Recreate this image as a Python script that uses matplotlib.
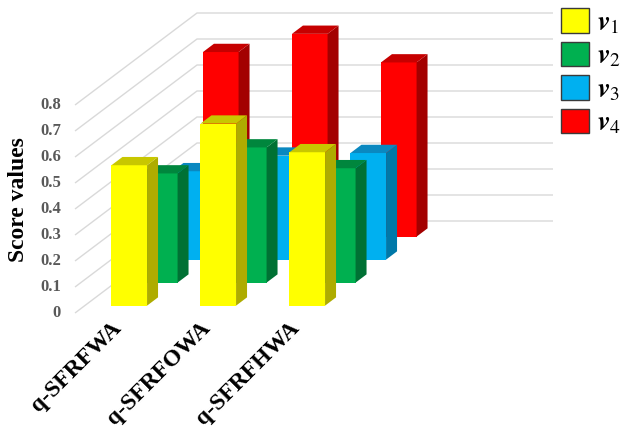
import matplotlib
matplotlib.use("Agg")
import matplotlib.pyplot as plt
from matplotlib.patches import Polygon, Patch

# ---- data -------------------------------------------------------------
categories = ["q-SFRFWA", "q-SFRFOWA", "q-SFRFHWA"]
series_names = [r"$\boldsymbol{v}_{1}$", r"$\boldsymbol{v}_{2}$",
                r"$\boldsymbol{v}_{3}$", r"$\boldsymbol{v}_{4}$"]
v1 = [0.54, 0.70, 0.59]
v2 = [0.42, 0.52, 0.44]
v3 = [0.34, 0.40, 0.41]
v4 = [0.71, 0.78, 0.67]
series_values = [v1, v2, v3, v4]
y_ticks = [0, 0.1, 0.2, 0.3, 0.4, 0.5, 0.6, 0.7, 0.8]
y_tick_labels = ["0", "0.1", "0.2", "0.3", "0.4", "0.5", "0.6", "0.7", "0.8"]

# face colours: front, top, side
palette = [
    ("#FFFF00", "#C8C700", "#AEAC00"),
    ("#00B050", "#00863D", "#007134"),
    ("#00B0F0", "#0A88C0", "#0078A8"),
    ("#FF0000", "#C60000", "#A30000"),
]

plt.rcParams["font.family"] = ["Liberation Serif", "DejaVu Serif"]
plt.rcParams["mathtext.fontset"] = "stix"

# ---- layout (pixels) ---------------------------------------------------
W, H, DPI = 625, 430, 100
CAT_PX = 89.0          # width of one category slot
FLOOR_LEFT_PX = 75.0   # left edge of front floor
ZERO_PX = 313.0        # y pixel (from top) of value 0 on front plane
VAL_PX = 260.0         # pixels per unit value
N_SLOTS = 4            # category slots on the floor (last one empty)

def xd(px):
    return (px - FLOOR_LEFT_PX) / CAT_PX - 0.5

def yd(py):
    return (ZERO_PX - py) / VAL_PX

DX = 122.0 / CAT_PX    # oblique depth vector (full depth) in data units
DY = 92.0 / VAL_PX

fig = plt.figure(figsize=(W / DPI, H / DPI), dpi=DPI)
ax = fig.add_axes([0, 0, 1, 1])
ax.set_xlim(xd(0), xd(W))
ax.set_ylim(yd(H), yd(0))
ax.axis("off")

# ---- walls: gridlines on the side wall and back wall --------------------
grid_c = "#D9D9D9"
x_left = -0.5
x_right = -0.5 + N_SLOTS
for t in y_ticks:
    ax.plot([x_left, x_left + DX, x_right + DX], [t, t + DY, t + DY],
            color=grid_c, lw=1.0, zorder=0, solid_capstyle="butt")

for t, lab in zip(y_ticks, y_tick_labels):
    ax.text(xd(61), t, lab, ha="right", va="center", fontsize=12,
            fontweight="bold", color="#595959")

# ---- 3-D columns -------------------------------------------------------
bar_w = 0.40
row_depth = 1.0 / len(series_values)
bar_depth = 0.09

z = 1
for r in reversed(range(len(series_values))):
    vals = series_values[r]
    front_c, top_c, side_c = palette[r]
    f0 = row_depth * (r + 0.5) - bar_depth / 2
    ox, oy = f0 * DX, f0 * DY
    bx, by = bar_depth * DX, bar_depth * DY
    xs = [i + ox for i in range(len(categories))]
    ax.bar(xs, vals, width=bar_w, bottom=oy, color=front_c,
           linewidth=0, zorder=z)
    for x, v in zip(xs, vals):
        L, R = x - bar_w / 2, x + bar_w / 2
        b, t = oy, oy + v
        side = Polygon([(R, b), (R + bx, b + by), (R + bx, t + by), (R, t)],
                       closed=True, facecolor=side_c, edgecolor="none",
                       zorder=z)
        top = Polygon([(L, t), (R, t), (R + bx, t + by), (L + bx, t + by)],
                      closed=True, facecolor=top_c, edgecolor="none",
                      zorder=z)
        ax.add_patch(side)
        ax.add_patch(top)
    z += 1

# ---- category labels ---------------------------------------------------
for i, name in enumerate(categories):
    ax.text(i - 0.10, yd(318), name, rotation=45, rotation_mode="anchor",
            ha="right", va="top", fontsize=17, fontweight="bold",
            color="black")

fig.text(19 / W, 1 - 200 / H, "Score values", rotation=90, ha="center",
         va="center", fontsize=17, fontweight="bold")

# ---- legend ------------------------------------------------------------
handles = [Patch(facecolor=p[0], edgecolor="#3A3A3A", linewidth=1.0)
           for p in palette]
ax.legend(handles, series_names, loc="upper left",
          bbox_to_anchor=(561 / W, 1 - 8 / H), bbox_transform=fig.transFigure,
          fontsize=20, handlelength=1.0, handleheight=1.0, handletextpad=0.3,
          labelspacing=0.2, frameon=False, borderaxespad=0, borderpad=0)

fig.savefig("out.png", dpi=DPI)
